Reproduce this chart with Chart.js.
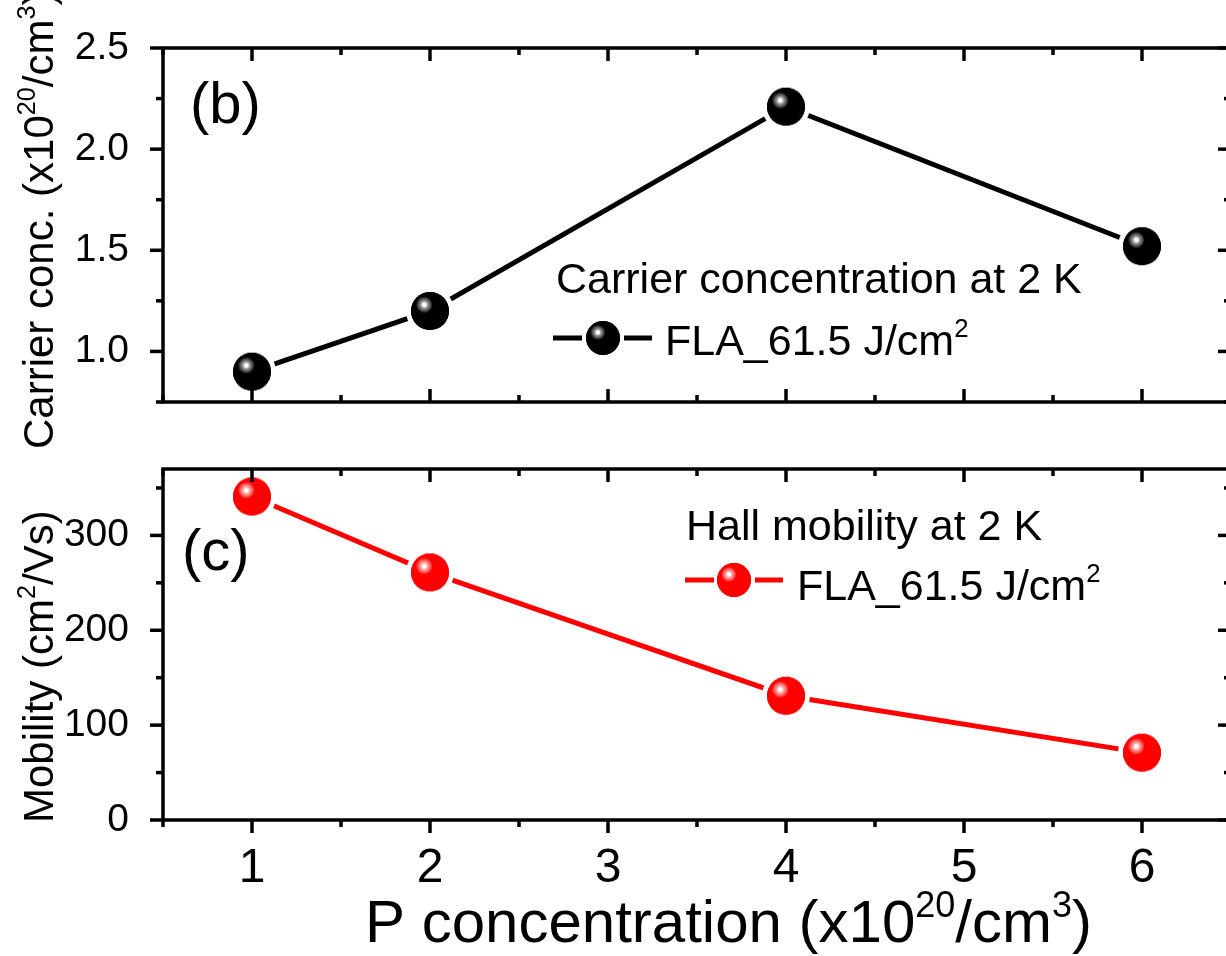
<!DOCTYPE html>
<html>
<head>
<meta charset="utf-8">
<script src="https://cdn.jsdelivr.net/npm/chart.js@4.4.1/dist/chart.umd.min.js"></script>
<style>
html, body { margin: 0; padding: 0; background: #fff; overflow: hidden; }
#wrap { position: relative; width: 1226px; height: 956px; overflow: hidden; }
canvas { position: absolute; left: 0; }
#topChart { top: 0; }
#bottomChart { top: 440px; }
</style>
</head>
<body>
<div id="wrap">
    <canvas id="topChart" width="1260" height="466"></canvas>
    <canvas id="bottomChart" width="1260" height="516"></canvas>
</div>
<script>
// ---- data ----
const pConc = [1, 2, 4, 6];
const carrierConc = [0.90, 1.20, 2.21, 1.52];
const mobility = [341, 261, 131, 71];

const xTicks = [1, 2, 3, 4, 5, 6];
const xMinor = [0.5, 1.5, 2.5, 3.5, 4.5, 5.5, 6.5];
const carrierTicks = [1.0, 1.5, 2.0, 2.5];
const carrierMinor = [0.75, 1.25, 1.75, 2.25];
const mobilityTicks = [0, 100, 200, 300];
const mobilityMinor = [50, 150, 250, 350];

const FONT = '"Liberation Sans", Arial, sans-serif';
Chart.defaults.font.family = FONT;
Chart.defaults.color = '#000';

// ---- sphere markers (Origin style) ----
function makeSphere(r, gap, base, mid, light) {
    const R = r + gap;
    const c = document.createElement('canvas');
    c.width = c.height = Math.ceil(R * 2);
    const g = c.getContext('2d');
    const cx = c.width / 2, cy = c.height / 2;
    if (gap > 0) {
        g.fillStyle = '#fff';
        g.beginPath(); g.arc(cx, cy, R, 0, Math.PI * 2); g.fill();
    }
    g.fillStyle = base;
    g.beginPath(); g.arc(cx, cy, r, 0, Math.PI * 2); g.fill();
    const hx = cx - r * 0.3, hy = cy - r * 0.33;
    const grad = g.createRadialGradient(hx, hy, 0, hx, hy, r * 0.45);
    grad.addColorStop(0, '#fff');
    grad.addColorStop(0.22, '#fff');
    grad.addColorStop(0.35, light);
    grad.addColorStop(0.7, mid);
    grad.addColorStop(1, base);
    g.fillStyle = grad;
    g.beginPath(); g.arc(cx, cy, r, 0, Math.PI * 2); g.fill();
    return c;
}

const blackBall = makeSphere(19, 5, '#000', '#555', '#aaa');
const redBall = makeSphere(19, 5, '#ff0000', '#ff6262', '#ffb4b4');
const blackBallLeg = makeSphere(17, 0, '#000', '#555', '#aaa');
const redBallLeg = makeSphere(17, 0, '#ff0000', '#ff6262', '#ffb4b4');

// ---- text helper with superscripts ----
function richText(ctx, parts, x, y, size, rotate) {
    ctx.save();
    ctx.translate(x, y);
    if (rotate) ctx.rotate(-Math.PI / 2);
    ctx.textBaseline = 'alphabetic';
    ctx.textAlign = 'left';
    ctx.fillStyle = '#000';
    let cx = 0;
    parts.forEach(p => {
        const s = p.sup ? size * 0.6 : size;
        ctx.font = s + 'px ' + FONT;
        ctx.fillText(p.t, cx, p.sup ? -size * 0.42 : 0);
        cx += ctx.measureText(p.t).width;
    });
    ctx.restore();
}

// ---- frame + ticks plugin ----
const framePlugin = {
    id: 'frame',
    afterDatasetsDraw(chart, args, o) {
        const ctx = chart.ctx;
        const a = chart.chartArea;
        const xs = chart.scales.x, ys = chart.scales.y;
        ctx.save();
        ctx.strokeStyle = '#000';
        ctx.lineWidth = 3.5;
        ctx.lineCap = 'butt';
        const line = (x1, y1, x2, y2) => {
            ctx.beginPath(); ctx.moveTo(x1, y1); ctx.lineTo(x2, y2); ctx.stroke();
        };
        const big = 13, small = 7;
        // top (inward)
        o.xMajor.forEach(v => { const p = xs.getPixelForValue(v); line(p, a.top, p, a.top + big); });
        o.xMinor.forEach(v => { const p = xs.getPixelForValue(v); line(p, a.top, p, a.top + small); });
        // bottom
        const dir = o.bottomOut ? 1 : -1;
        o.xMajor.forEach(v => { const p = xs.getPixelForValue(v); line(p, a.bottom, p, a.bottom + dir * big); });
        o.xMinor.forEach(v => { const p = xs.getPixelForValue(v); line(p, a.bottom, p, a.bottom + dir * small); });
        // left (outward)
        o.yMajor.forEach(v => { const p = ys.getPixelForValue(v); line(a.left, p, a.left - big, p); });
        o.yMinor.forEach(v => { const p = ys.getPixelForValue(v); line(a.left, p, a.left - small, p); });
        // right (inward)
        o.yMajor.forEach(v => { const p = ys.getPixelForValue(v); line(a.right, p, a.right - big, p); });
        o.yMinor.forEach(v => { const p = ys.getPixelForValue(v); line(a.right, p, a.right - small, p); });
        // box
        ctx.strokeRect(a.left, a.top, a.right - a.left, a.bottom - a.top);
        ctx.restore();
    }
};

// ---- labels / legend plugin ----
const notesPlugin = {
    id: 'notes',
    afterDraw(chart, args, o) {
        const ctx = chart.ctx;
        o.texts.forEach(t => richText(ctx, t.parts, t.x, t.y, t.size, t.rotate));
        if (o.sample) {
            const s = o.sample;
            ctx.save();
            ctx.strokeStyle = s.color;
            ctx.lineWidth = 5;
            ctx.beginPath();
            ctx.moveTo(s.x1, s.y); ctx.lineTo(s.x2, s.y);
            ctx.moveTo(s.x3, s.y); ctx.lineTo(s.x4, s.y);
            ctx.stroke();
            ctx.drawImage(s.img, s.cx - s.img.width / 2, s.y - s.img.height / 2);
            ctx.restore();
        }
    }
};

// no extra padding for edge labels
const noEdgePad = s => { s.paddingTop = 0; s.paddingBottom = 0; s.paddingLeft = 0; s.paddingRight = 0; };

const jcm2 = [{ t: 'FLA_61.5 J/cm' }, { t: '2', sup: true }];

// ---- top chart: carrier concentration ----
new Chart(document.getElementById('topChart'), {
    type: 'line',
    data: {
        datasets: [{
            data: pConc.map((x, i) => ({ x: x, y: carrierConc[i] })),
            borderColor: '#000',
            borderWidth: 5,
            pointStyle: blackBall,
            pointRadius: 24,
            tension: 0,
            clip: false
        }]
    },
    options: {
        responsive: false,
        animation: false,
        events: [],
        layout: { padding: { top: 48, right: 26, bottom: 64, left: 0 } },
        plugins: {
            legend: { display: false },
            tooltip: { enabled: false },
            frame: { xMajor: xTicks, xMinor: xMinor, yMajor: carrierTicks, yMinor: carrierMinor, bottomOut: false },
            notes: {
                texts: [
                    { parts: [{ t: '(b)' }], x: 190, y: 123, size: 58 },
                    { parts: [{ t: 'Carrier concentration at 2 K' }], x: 556, y: 293, size: 43 },
                    { parts: jcm2, x: 665, y: 355, size: 43 },
                    { parts: [{ t: 'Carrier conc. (x10' }, { t: '20', sup: true }, { t: '/cm' }, { t: '3', sup: true }, { t: ')' }],
                      x: 53, y: 449, size: 42, rotate: true }
                ],
                sample: { color: '#000', x1: 553, x2: 582, x3: 624, x4: 652, y: 338, cx: 603, img: blackBallLeg }
            }
        },
        scales: {
            x: { type: 'linear', min: 0.5, max: 6.5, display: false },
            y: {
                type: 'linear', min: 0.75, max: 2.5,
                afterBuildTicks: s => { s.ticks = carrierTicks.map(v => ({ value: v })); },
                afterFit: s => { s.width = 163; noEdgePad(s); },
                grid: { display: false },
                border: { display: false },
                ticks: { font: { size: 39 }, padding: 26, callback: v => v.toFixed(1) }
            }
        }
    },
    plugins: [framePlugin, notesPlugin]
});

// ---- bottom chart: Hall mobility ----
new Chart(document.getElementById('bottomChart'), {
    type: 'line',
    data: {
        datasets: [{
            data: pConc.map((x, i) => ({ x: x, y: mobility[i] })),
            borderColor: '#ff0000',
            borderWidth: 5,
            pointStyle: redBall,
            pointRadius: 24,
            tension: 0,
            clip: false
        }]
    },
    options: {
        responsive: false,
        animation: false,
        events: [],
        layout: { padding: { top: 26, right: 26, bottom: 0, left: 0 } },
        plugins: {
            legend: { display: false },
            tooltip: { enabled: false },
            frame: { xMajor: xTicks, xMinor: xMinor, yMajor: mobilityTicks, yMinor: mobilityMinor, bottomOut: true },
            notes: {
                texts: [
                    { parts: [{ t: '(c)' }], x: 182, y: 130, size: 58 },
                    { parts: [{ t: 'Hall mobility at 2 K' }], x: 686, y: 100, size: 43 },
                    { parts: jcm2, x: 797, y: 160, size: 43 },
                    { parts: [{ t: 'P concentration (x10' }, { t: '20', sup: true }, { t: '/cm' }, { t: '3', sup: true }, { t: ')' }],
                      x: 365, y: 502, size: 60 },
                    { parts: [{ t: 'Mobility (cm' }, { t: '2', sup: true }, { t: '/Vs)' }],
                      x: 53, y: 383, size: 42, rotate: true }
                ],
                sample: { color: '#ff0000', x1: 685, x2: 714, x3: 755, x4: 783, y: 140, cx: 734, img: redBallLeg }
            }
        },
        scales: {
            x: {
                type: 'linear', min: 0.5, max: 6.5,
                afterBuildTicks: s => { s.ticks = xTicks.map(v => ({ value: v })); },
                afterFit: s => { s.height = 136; noEdgePad(s); },
                grid: { display: false },
                border: { display: false },
                ticks: { font: { size: 48 }, padding: 12, callback: v => String(v) }
            },
            y: {
                type: 'linear', min: 0, max: 370,
                afterBuildTicks: s => { s.ticks = mobilityTicks.map(v => ({ value: v })); },
                afterFit: s => { s.width = 163; noEdgePad(s); },
                grid: { display: false },
                border: { display: false },
                ticks: { font: { size: 39 }, padding: 26, callback: v => String(v) }
            }
        }
    },
    plugins: [framePlugin, notesPlugin]
});
</script>
</body>
</html>
